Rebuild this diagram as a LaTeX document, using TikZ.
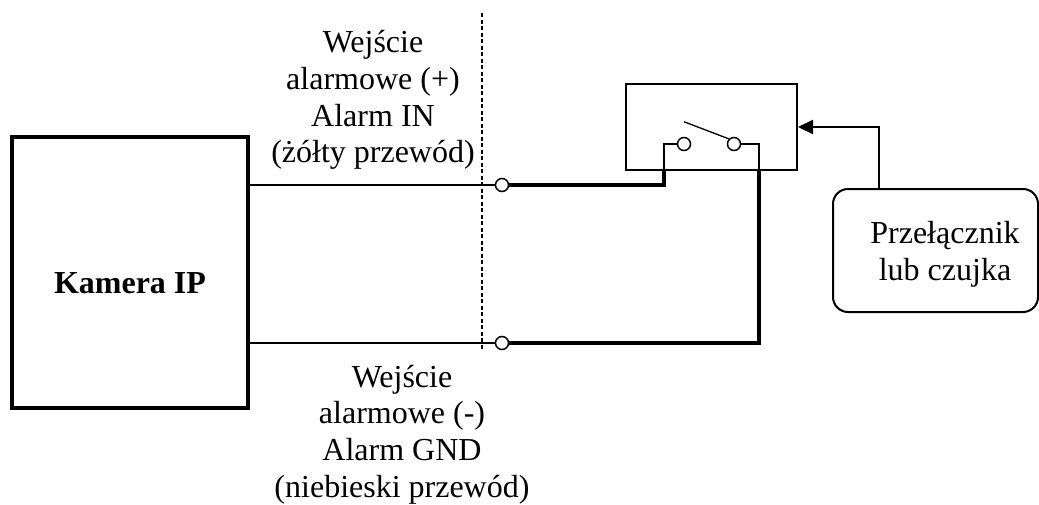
\documentclass[tikz,border=0pt]{standalone}
\usepackage{fontspec}
\setmainfont{Liberation Serif}
\usetikzlibrary{arrows.meta,positioning}

\begin{document}
\begin{tikzpicture}[x=1pt,y=-1pt,
        wire/.style={line width=1.5pt},
        mainwire/.style={line width=4pt},
        contact/.style={circle, draw, line width=1.5pt, fill=white,
                        minimum size=13pt, inner sep=0pt},
        txt/.style={font=\fontsize{32}{36.7}\selectfont, align=center, inner sep=0pt}]
                \useasboundingbox (0,0) rectangle (1039,504);

                % granica
                \draw[line width=1.5pt, dash pattern=on 4pt off 2.5pt] (482,13) -- (482,350);

                \node [draw, line width=3.3pt, minimum width=236pt, minimum height=271pt,
                        text height=41pt, text depth=0pt,
                        font=\fontsize{32}{36.7}\selectfont\bfseries]
                                        (kamera) at (130,272.5) {Kamera IP};

                \node [contact] (we1) at (502,185) {};
                \node [contact] (we2) at (502,343) {};
                \draw [wire] (kamera.east |- we1) -- (we1.west);
                \draw [wire] (kamera.east |- we2) -- (we2.west);

                \node [txt] (opis1) at (373,100)
                        {Wejście\\alarmowe (+)\\Alarm IN\\(żółty przewód)};
                \node [txt] (opis2) at (402,434.5)
                        {Wejście\\alarmowe (-)\\Alarm GND\\(niebieski przewód)};

                % przekaznik
                \node [draw, line width=2pt, minimum width=171pt, minimum height=86pt]
                                        (przek) at (711.5,127) {};
                \node [contact] (k1) at (684,144) {};
                \node [contact] (k2) at (734,144) {};
                \draw [line width=1.3pt] (k1.north) ++(0,-15) -- (k2.north west);
                \coordinate (l1) at (664,170);
                \coordinate (l2) at (759,170);
                \draw [wire] (k1.west) -| (l1);
                \draw [wire] (k2.east) -| (l2);
                \draw [mainwire] (we1.east) -| (l1);
                \draw [mainwire] (we2.east) -| (l2);

                % czujka
                \node [draw, line width=2pt, rounded corners=15pt,
                        minimum width=205pt, minimum height=123pt]
                                        (czujka) at (935.5,250.5) {};
                \node [txt] (czujkatxt) at (945,254.5) {Przełącznik\\lub czujka};
                \draw [line width=2.3pt, -{Triangle[length=15pt,width=14pt]}]
                        ([xshift=-56.5pt]czujka.north) |- (przek.east);
\end{tikzpicture}
\end{document}
